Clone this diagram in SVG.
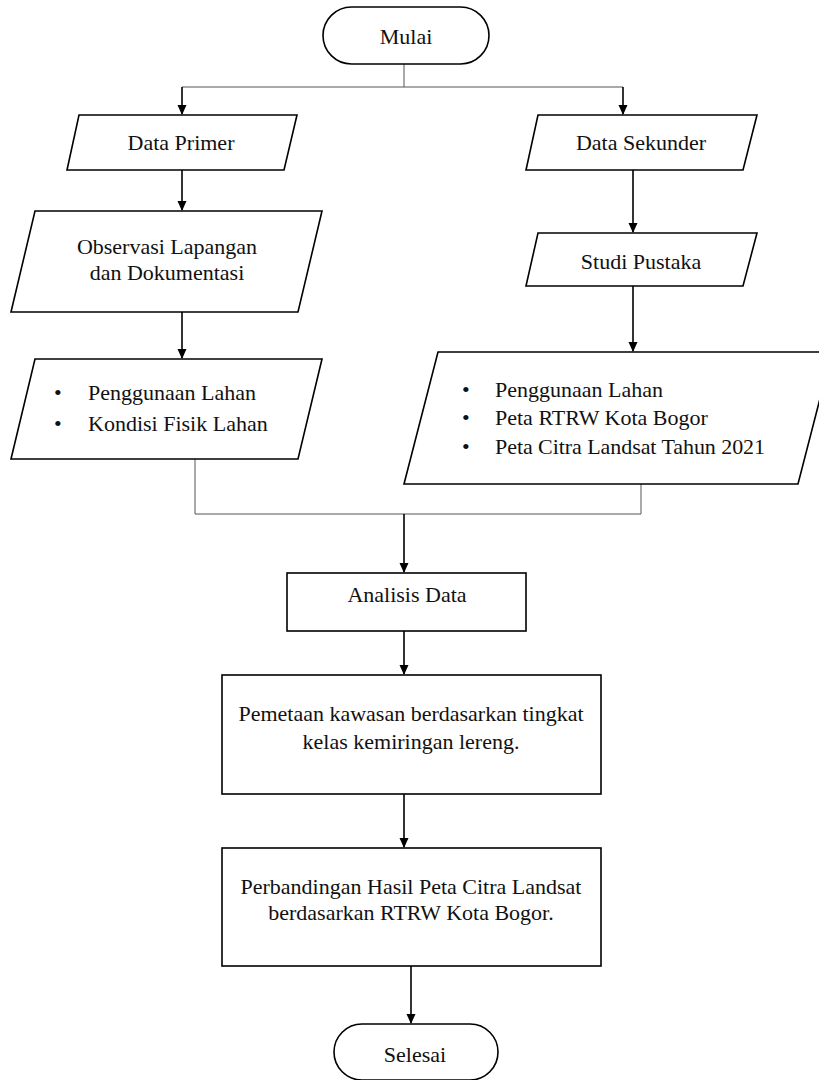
<svg xmlns="http://www.w3.org/2000/svg" width="819" height="1080" viewBox="0 0 819 1080">
<defs>
<marker id="ah" markerWidth="10" markerHeight="10" refX="9" refY="5" orient="auto" markerUnits="userSpaceOnUse">
<path d="M0,0.5 L10,5 L0,9.5 Z" fill="#000"/>
</marker>
<style>
.s{fill:#fff;stroke:#000;stroke-width:1.6}
.t{font-family:"Liberation Serif","Times New Roman",serif;font-size:22px;fill:#111}
.c{text-anchor:middle}
.a{fill:none;stroke:#000;stroke-width:1.6}
.g{fill:none;stroke:#555;stroke-width:1}
</style>
</defs>
<rect width="819" height="1080" fill="#fff"/>
<g id="connectors">
<path class="g" d="M404,64 V87 M182,87 H623"/>
<path class="a" d="M182,87 V114" marker-end="url(#ah)"/>
<path class="a" d="M623,87 V114" marker-end="url(#ah)"/>
<path class="a" d="M182,170 V210" marker-end="url(#ah)"/>
<path class="a" d="M182,312 V358" marker-end="url(#ah)"/>
<path class="a" d="M633,170 V232" marker-end="url(#ah)"/>
<path class="a" d="M633,286 V351" marker-end="url(#ah)"/>
<path class="g" d="M195,459 V514 H641 V479"/>
<path class="a" d="M404,514 V572" marker-end="url(#ah)"/>
<path class="a" d="M404,631 V674" marker-end="url(#ah)"/>
<path class="a" d="M404,794 V847" marker-end="url(#ah)"/>
<path class="a" d="M411,966 V1023" marker-end="url(#ah)"/>
</g>
<g id="mulai">
<rect class="s" x="323" y="7" width="166" height="57" rx="28.5"/>
<text class="t c" x="406" y="44">Mulai</text>
</g>
<g id="data-primer">
<polygon class="s" points="79,115 297,115 284,170 67,170"/>
<text class="t c" x="181" y="150">Data Primer</text>
</g>
<g id="observasi">
<polygon class="s" points="35,211 322,211 298,312 11,312"/>
<text class="t c" x="167" y="254">Observasi Lapangan</text>
<text class="t c" x="167" y="280">dan Dokumentasi</text>
</g>
<g id="primer-list">
<polygon class="s" points="35,359 322,359 298,459 11,459"/>
<text class="t" x="54" y="400">•</text>
<text class="t" x="88" y="400">Penggunaan Lahan</text>
<text class="t" x="54" y="431">•</text>
<text class="t" x="88" y="431">Kondisi Fisik Lahan</text>
</g>
<g id="data-sekunder">
<polygon class="s" points="538,115 757,115 743,170 526,170"/>
<text class="t c" x="641" y="150">Data Sekunder</text>
</g>
<g id="studi-pustaka">
<polygon class="s" points="538,233 757,233 743,286 526,286"/>
<text class="t c" x="641" y="269">Studi Pustaka</text>
</g>
<g id="sekunder-list">
<polygon class="s" points="438,352 832,352 798,484 404,484"/>
<text class="t" x="462" y="397">•</text>
<text class="t" x="495" y="397">Penggunaan Lahan</text>
<text class="t" x="462" y="425">•</text>
<text class="t" x="495" y="425">Peta RTRW Kota Bogor</text>
<text class="t" x="462" y="454">•</text>
<text class="t" x="495" y="454" textLength="270" lengthAdjust="spacing">Peta Citra Landsat Tahun 2021</text>
</g>
<g id="analisis">
<rect class="s" x="287" y="573" width="239" height="58"/>
<text class="t c" x="407" y="602">Analisis Data</text>
</g>
<g id="pemetaan">
<rect class="s" x="222" y="675" width="379" height="119"/>
<text class="t c" x="411" y="721">Pemetaan kawasan berdasarkan tingkat</text>
<text class="t c" x="411" y="749">kelas kemiringan lereng.</text>
</g>
<g id="perbandingan">
<rect class="s" x="222" y="848" width="379" height="118"/>
<text class="t c" x="411" y="894">Perbandingan Hasil Peta Citra Landsat</text>
<text class="t c" x="411" y="920">berdasarkan RTRW Kota Bogor.</text>
</g>
<g id="selesai">
<rect class="s" x="334" y="1024" width="164" height="56" rx="28"/>
<text class="t c" x="415" y="1062">Selesai</text>
</g>
</svg>
